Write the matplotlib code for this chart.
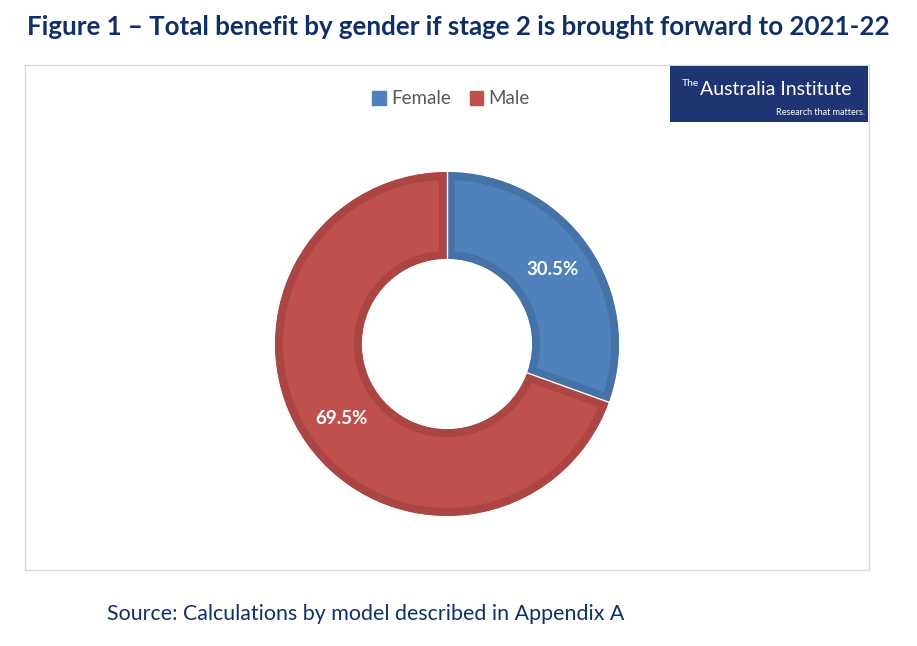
import numpy as np
import matplotlib.pyplot as plt
from matplotlib.patches import Rectangle

# data
labels = ["Female", "Male"]
shares = [30.5, 69.5]
colors = ["#4F81BD", "#C0504D"]
edge_colors = ["#4573A8", "#AB4644"]
title = "Figure 1 \u2013 Total benefit by gender if stage 2 is brought forward to 2021-22"
source = "Source: Calculations by model described in Appendix A"
navy = "#0F2F6B"

W, H = 917, 646
fig = plt.figure(figsize=(W / 100, H / 100), dpi=100)
plt.rcParams["font.family"] = ["Lato", "DejaVu Sans"]


def px(x, y, w, h):
    # pixel box (top-left origin) -> figure fraction
    return [x / W, 1 - (y + h) / H, w / W, h / H]


# chart frame
frame = fig.add_axes(px(25, 65, 844, 505))
frame.set_xticks([])
frame.set_yticks([])
for s in frame.spines.values():
    s.set_color("#D9D9D9")
    s.set_linewidth(1)

fig.text(27 / W, 1 - 27 / H, title, fontsize=18.65, fontweight="bold",
         color=navy, ha="left", va="center")
fig.text(107 / W, 1 - 614 / H, source, fontsize=15.4, color=navy,
         ha="left", va="center")

# donut
ax = fig.add_axes(px(275, 172, 344, 344))
ring = 0.505
wedges, texts, autotexts = ax.pie(
    shares, colors=colors, startangle=90, counterclock=False,
    radius=1.0, wedgeprops=dict(width=ring),
    autopct="%.1f%%", pctdistance=0.75,
    textprops=dict(color="white", fontsize=13.5, fontweight="bold"))
for w, ec in zip(wedges, edge_colors):
    w.set_edgecolor(ec)
    w.set_linewidth(11.5)
    w.set_joinstyle("miter")
    w.set_clip_on(True)
    w.set_clip_path(w.get_path(), w.get_transform())

# thin white lines at the wedge boundaries
bounds = 90 - 360 * np.cumsum([0] + shares[:-1]) / sum(shares)
for b in bounds:
    t = np.deg2rad(b)
    ax.plot([(1 - ring) * np.cos(t), np.cos(t)],
            [(1 - ring) * np.sin(t), np.sin(t)], color="white", lw=1)
ax.set_xlim(-1, 1)
ax.set_ylim(-1, 1)
ax.set_aspect("equal")
ax.axis("off")

# legend
handles = [Rectangle((0, 0), 1, 1, color=c) for c in colors]
fig.legend(handles, labels, loc="center", bbox_to_anchor=(451 / W, 1 - 99 / H),
           ncol=2, frameon=False, fontsize=13.5, handlelength=0.7,
           handleheight=0.7, handletextpad=0.3, columnspacing=1.0,
           labelcolor="#595959")

# logo
logo = fig.add_axes(px(670, 66, 198, 56))
logo.set_facecolor("#1F3473")
logo.set_xticks([])
logo.set_yticks([])
for s in logo.spines.values():
    s.set_visible(False)
logo.text(0.06, 0.60, "The", fontsize=7.5, color="white", va="bottom",
          ha="left", transform=logo.transAxes)
logo.text(0.15, 0.58, "Australia Institute", fontsize=14, color="white",
          va="center", ha="left", transform=logo.transAxes)
logo.text(0.985, 0.17, "Research that matters.", fontsize=6.5, color="white",
          va="center", ha="right", transform=logo.transAxes)

fig.savefig("out.png", dpi=100, facecolor="white")
